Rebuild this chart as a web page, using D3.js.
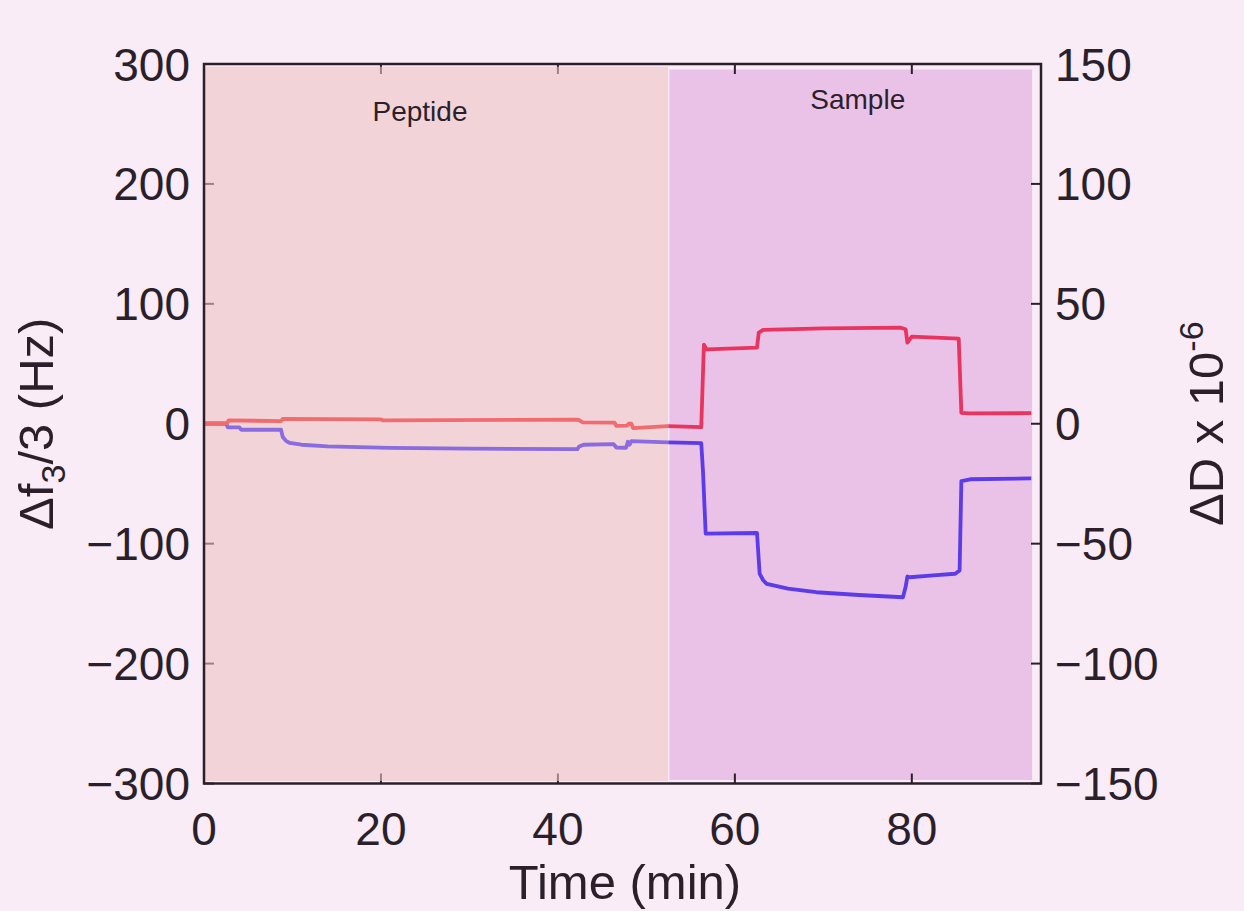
<!DOCTYPE html>
<html lang="en">
  <head>
    <meta charset="UTF-8" />
    <title>QCM-D Peptide / Sample</title>
    <script src="https://d3js.org/d3.v7.min.js"></script>
    <style>
      html, body {
        margin: 0;
        padding: 0;
        background: #f9ecf7;
      }
      svg text {
        font-family: "Liberation Sans", Arial, sans-serif;
        fill: #2b1f2b;
      }
    </style>
  </head>
  <body>
    <script>
      // frequency shift, Δf3/3 (Hz), left axis
      const timeF = [0, 2.5, 2.7, 4.0, 4.2, 8.7, 8.9, 9.3, 9.7, 11, 14, 21, 30, 42.2, 42.4, 42.9,
        46.3, 46.6, 47.7, 47.9, 48.1, 48.3, 52.4, 56.2, 56.4, 56.7, 62.5, 62.8, 63.2, 63.6, 66,
        69.2, 74, 79.0, 79.3, 79.5, 79.8, 82.4, 84.9, 85.4, 85.6, 86.6, 93.5];
      const deltaF = [0, 0, -3, -3, -5, -5, -11, -14.5, -16, -17.5, -18.8, -20.2, -20.8, -21.2, -19, -17.5,
        -17, -19.8, -20, -15, -17.5, -14.5, -15.5, -16.2, -40, -91.6, -91.1, -124.9, -130.5, -133.5, -137.5,
        -140.5, -142.8, -144.7, -136, -127.4, -128, -126.5, -125.1, -122.3, -47.8, -46.3, -45.6];

      // dissipation shift, ΔD x 10^-6, right axis
      const timeD = [0, 2.6, 2.8, 8.7, 8.9, 20, 20.2, 42.3, 42.8, 46.4, 46.6, 47.8, 48.0, 48.3, 48.5,
        52.4, 56.2, 56.5, 56.8, 62.5, 62.7, 63.2, 70, 78.7, 79.3, 79.5, 80.0, 85.3, 85.6, 86.5, 93.5];
      const deltaD = [0.25, 0.25, 1.4, 1.1, 2, 1.8, 1.4, 1.7, 0.55, 0.5, -0.85, -0.75, 0, 0, -1.8,
        -1, -1.4, 33, 31, 31.7, 38, 39.1, 39.75, 40.1, 39.4, 33.8, 36.35, 35.5, 4.5, 4.3, 4.4];

      // experiment phases (min)
      const phaseNames = ["Peptide", "Sample"];
      const phaseStart = [0, 52.6];
      const phaseEnd = [52.45, 93.6];

      const xTicks = [0, 20, 40, 60, 80];
      const yLeftTicks = [-300, -200, -100, 0, 100, 200, 300];
      const yRightTicks = [-150, -100, -50, 0, 50, 100, 150];

      const width = 1244;
      const height = 911;
      const plotL = 204, plotR = 1041, plotT = 64, plotB = 783.5;
      const ink = "#2b1f2b";
      const fmt = v => String(v).replace("-", "\u2212");

      const x = d3.scaleLinear().domain([0, 94.6]).range([plotL, plotR]);
      const yL = d3.scaleLinear().domain([-300, 300]).range([plotB, plotT]);
      const yR = d3.scaleLinear().domain([-150, 150]).range([plotB, plotT]);

      const svg = d3.select("body").append("svg")
        .attr("width", width)
        .attr("height", height)
        .style("display", "block");

      const defs = svg.append("defs");
      phaseNames.forEach((name, i) => {
        defs.append("clipPath").attr("id", "clip-" + i)
          .append("rect")
          .attr("x", i === 0 ? plotL : x(phaseStart[i]) - 1)
          .attr("y", 0)
          .attr("width", i === 0 ? x(phaseEnd[0]) - plotL + 0.5 : plotR - x(phaseStart[i]) + 10)
          .attr("height", height);
      });

      // sample phase background (opaque, under ticks)
      svg.append("rect")
        .attr("x", x(phaseStart[1]))
        .attr("y", plotT + 5.5)
        .attr("width", x(phaseEnd[1]) - x(phaseStart[1]))
        .attr("height", plotB - plotT - 9)
        .attr("fill", "#ebc2e7");

      // inward ticks
      const tickLen = 10;
      const ticks = svg.append("g").attr("stroke", ink).attr("stroke-width", 2);
      xTicks.forEach(t => {
        ticks.append("line").attr("x1", x(t)).attr("x2", x(t)).attr("y1", plotB).attr("y2", plotB - tickLen);
        ticks.append("line").attr("x1", x(t)).attr("x2", x(t)).attr("y1", plotT).attr("y2", plotT + tickLen);
      });
      yLeftTicks.forEach(v => {
        ticks.append("line").attr("x1", plotL).attr("x2", plotL + tickLen).attr("y1", yL(v)).attr("y2", yL(v));
      });
      yRightTicks.forEach(v => {
        ticks.append("line").attr("x1", plotR).attr("x2", plotR - tickLen).attr("y1", yR(v)).attr("y2", yR(v));
      });

      // peptide phase background (semi-transparent, over ticks)
      svg.append("rect")
        .attr("x", plotL)
        .attr("y", plotT + 2.7)
        .attr("width", x(phaseEnd[0]) - plotL)
        .attr("height", plotB - plotT - 5.2)
        .attr("fill", "#edc3c1")
        .attr("opacity", 0.6);

      // phase labels
      svg.append("text")
        .attr("x", 420)
        .attr("y", 121)
        .attr("text-anchor", "middle")
        .attr("font-size", 28)
        .text(phaseNames[0]);
      svg.append("text")
        .attr("x", (x(phaseStart[1]) + x(phaseEnd[1])) / 2 + 7)
        .attr("y", 109)
        .attr("text-anchor", "middle")
        .attr("font-size", 28)
        .text(phaseNames[1]);

      // lines, coloured per phase
      const lineF = d3.line().x((d, i) => x(timeF[i])).y(d => yL(d));
      const lineD = d3.line().x((d, i) => x(timeD[i])).y(d => yR(d));
      const blueCols = ["#8a6be0", "#5b3ce8"];
      const redCols = ["#f06c70", "#e8355f"];
      phaseNames.forEach((name, i) => {
        const g = svg.append("g").attr("clip-path", "url(#clip-" + i + ")");
        g.append("path").datum(deltaF)
          .attr("d", lineF)
          .attr("fill", "none")
          .attr("stroke", blueCols[i])
          .attr("stroke-width", 3.8)
          .attr("stroke-linejoin", "round");
        g.append("path").datum(deltaD)
          .attr("d", lineD)
          .attr("fill", "none")
          .attr("stroke", redCols[i])
          .attr("stroke-width", 3.8)
          .attr("stroke-linejoin", "round");
      });

      // axes box
      svg.append("rect")
        .attr("x", plotL).attr("y", plotT)
        .attr("width", plotR - plotL).attr("height", plotB - plotT)
        .attr("fill", "none")
        .attr("stroke", ink)
        .attr("stroke-width", 2.5);

      // tick labels
      const tickFont = 46;
      xTicks.forEach(t => {
        svg.append("text")
          .attr("x", x(t)).attr("y", plotB + 61)
          .attr("text-anchor", "middle")
          .attr("font-size", tickFont)
          .text(fmt(t));
      });
      yLeftTicks.forEach(v => {
        svg.append("text")
          .attr("x", plotL - 14).attr("y", yL(v) + 16.5)
          .attr("text-anchor", "end")
          .attr("font-size", tickFont)
          .text(fmt(v));
      });
      yRightTicks.forEach(v => {
        svg.append("text")
          .attr("x", plotR + 14).attr("y", yR(v) + 16.5)
          .attr("text-anchor", "start")
          .attr("font-size", tickFont)
          .text(fmt(v));
      });

      // axis titles
      svg.append("text")
        .attr("x", 625)
        .attr("y", 899)
        .attr("text-anchor", "middle")
        .attr("font-size", 49)
        .text("Time (min)");

      const yTitle = svg.append("text")
        .attr("transform", `translate(53, ${yL(0)}) rotate(-90)`)
        .attr("text-anchor", "middle")
        .attr("font-size", 49);
      yTitle.append("tspan").text("Δf");
      yTitle.append("tspan").attr("font-size", 34).attr("dy", 12).text("3");
      yTitle.append("tspan").attr("dy", -12).text("/3 (Hz)");

      const y2Title = svg.append("text")
        .attr("transform", `translate(1223, ${yR(0)}) rotate(-90)`)
        .attr("text-anchor", "middle")
        .attr("font-size", 49);
      y2Title.append("tspan").text("ΔD x 10");
      y2Title.append("tspan").attr("font-size", 34).attr("dy", -20).text("-6");
    </script>
  </body>
</html>
